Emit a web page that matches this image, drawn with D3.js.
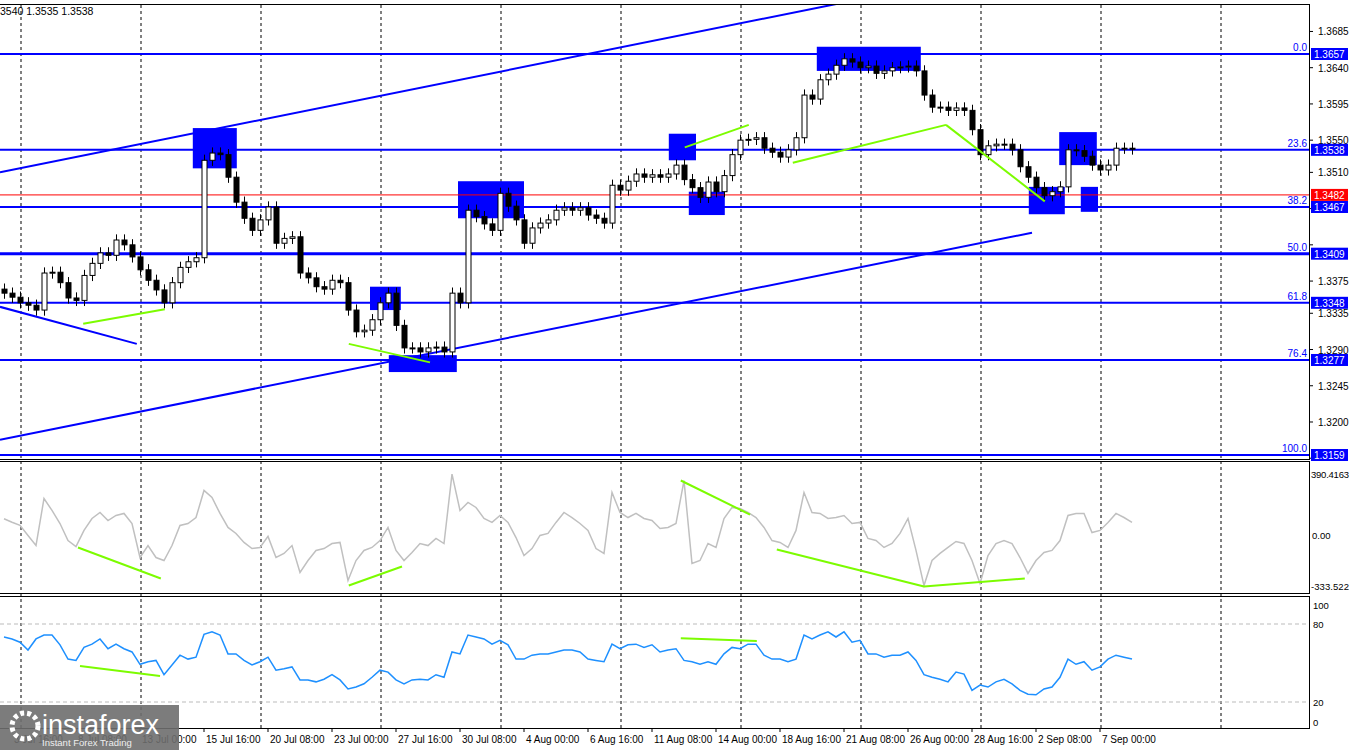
<!DOCTYPE html>
<html>
<head>
<meta charset="utf-8">
<script src="https://cdn.jsdelivr.net/npm/d3@7"></script>
<style>
  body { margin: 0; background: #fff; }
  svg { display: block; font-family: "Liberation Sans", Arial, sans-serif; }
</style>
</head>
<body>
<div id="chart"></div>
<script>
// 4H closes (one value per 8px step)
var closes = [1.3360,1.3355,1.3348,1.3345,1.3339,1.3385,1.3386,1.3373,1.3354,1.3351,
  1.3382,1.3397,1.3410,1.3407,1.3426,1.3420,1.3405,1.3389,1.3376,1.3364,
  1.3348,1.3373,1.3392,1.3399,1.3404,1.3525,1.3534,1.3532,1.3504,1.3473,
  1.3453,1.3438,1.3451,1.3467,1.3422,1.3428,1.3430,1.3385,1.3379,1.3368,
  1.3365,1.3376,1.3373,1.3339,1.3312,1.3314,1.3327,1.3348,1.3360,1.3320,
  1.3292,1.3292,1.3287,1.3292,1.3293,1.3287,1.3360,1.3348,1.3463,1.3455,
  1.3446,1.3438,1.3484,1.3468,1.3451,1.3422,1.3441,1.3447,1.3451,1.3463,
  1.3466,1.3463,1.3466,1.3457,1.3453,1.3447,1.3494,1.3488,1.3499,1.3508,
  1.3504,1.3507,1.3504,1.3508,1.3519,1.3501,1.3491,1.3479,1.3498,1.3486,
  1.3506,1.3532,1.3550,1.3551,1.3553,1.3540,1.3535,1.3529,1.3538,1.3553,
  1.3606,1.3601,1.3625,1.3632,1.3643,1.3651,1.3647,1.3640,1.3642,1.3633,
  1.3636,1.3640,1.3641,1.3642,1.3636,1.3606,1.3591,1.3591,1.3587,1.3590,
  1.3587,1.3563,1.3532,1.3543,1.3545,1.3545,1.3538,1.3517,1.3504,1.3491,
  1.3481,1.3486,1.3492,1.3538,1.3537,1.3530,1.3519,1.3513,1.3519,1.3540,
  1.3540,1.3539];
var firstOpen = 1.3365;

var cci = [106,84,64,0,-64,235,159,76,-32,-70,32,108,146,95,127,140,76,-140,-64,-140,
  -159,-64,64,76,114,286,241,140,51,13,-44,-83,-76,-6,-140,-114,-64,-235,-159,-95,
  -83,-51,-44,-286,-159,-95,-76,-32,51,-95,-159,-108,-51,-64,-19,-51,390,159,210,178,
  108,83,127,83,-13,-127,-83,0,13,83,146,114,76,32,-83,-114,273,146,114,140,
  108,95,44,51,76,349,-178,-159,-51,-76,108,178,171,146,114,51,-32,-44,-76,32,
  273,146,140,108,114,127,76,83,-19,-32,-76,-51,13,108,-95,-318,-159,-114,-76,-38,
  -51,-159,-305,-127,-51,-32,-51,-140,-241,-159,-108,-95,-32,127,140,140,19,32,83,140,
  114,83];

var rsi = [70,68.5,66,60,68.5,71.5,71.5,64,53,52,62,64.5,68.5,61,64.5,61,58.5,49,51,52,
  41,48.5,56,53,54.5,72,74,71.5,57,57,52,48.5,51,54.5,44.5,45.5,47,37,37,35.5,
  37.5,41,37,30,31.5,34,39,44.5,43,37,34,37,37.5,37,41,39,58.5,57,71.5,70,
  68.5,64.5,67.5,64,53,53,56,57,57,58.5,60,60,58.5,53,52,51,64.5,61,64,64.5,
  62,64,58.5,60,61,52,51,49,51,49,57,62,61,64.5,64.5,56,53,53,51,53,
  71.5,68.5,71.5,74,70,74,66,67.5,57,57,54.5,56,56,58.5,52,41,39,37.5,35.5,43,
  41.5,29,33,31.5,35.5,37.5,34,29,26,25.5,30,31.5,39,53,49,51,44.5,47,53,56,
  54.5,53];

var timeLabels = ["3 Jul 16:00","8 Jul 08:00","13 Jul 00:00","15 Jul 16:00","20 Jul 08:00",
  "23 Jul 00:00","27 Jul 16:00","30 Jul 08:00","4 Aug 00:00","6 Aug 16:00","11 Aug 08:00",
  "14 Aug 00:00","18 Aug 16:00","21 Aug 08:00","26 Aug 00:00","28 Aug 16:00","2 Sep 08:00",
  "7 Sep 00:00"];
var priceTicks = [1.3685,1.3640,1.3595,1.3550,1.3510,1.3465,1.3420,1.3375,1.3335,1.3290,1.3245,1.3200,1.3155];
var fibLevels = [1.3657,1.3538,1.3467,1.3409,1.3348,1.3277,1.3159];
var fibNames = ["0.0","23.6","38.2","50.0","61.8","76.4","100.0"];
var bidPrice = 1.3482;

// [index0, index1, priceTop, priceBottom]
var zones = [[23.6,29.1,1.3565,1.3515],[45.75,49.6,1.3368,1.3339],[48.1,56.6,1.3283,1.3262],
  [56.75,65,1.3499,1.3453],[83.1,86.5,1.3558,1.3525],[85.6,90.1,1.3486,1.3457],
  [101.6,114.6,1.3666,1.3636],[128.1,132.6,1.3492,1.3458],[131.9,136.6,1.3560,1.3519],
  [134.6,136.75,1.3492,1.3461]];
var trendLines = [[-0.5,1.3510,104.5,1.3720],[-0.5,1.3178,128.5,1.3435],[-0.5,1.3343,16.6,1.3297]];
var priceDiv = [[9.9,1.3322,20.1,1.3340],[43.1,1.3297,53.25,1.3274],[85.1,1.3541,93.1,1.3569],
  [98.6,1.3522,117.75,1.3569],[117.75,1.3569,130.1,1.3474]];
var cciDiv = [[9.25,-76,19.6,-273],[43.1,-318,49.75,-197],[84.6,349,93.25,133],
  [96.6,-89,115,-324],[115,-324,127.6,-273]];
var rsiDiv = [[9.5,47.7,19.5,40],[84.6,69,94.1,67]];

var W = 1350, H = 750, plotR = 1309;
var svg = d3.select("#chart").append("svg").attr("width", W).attr("height", H);

var x = d3.scaleLinear().domain([0, 1]).range([4, 12]);
var y = d3.scaleLinear().domain([1.3159, 1.3657]).range([455, 54]);
var yc = d3.scaleLinear().domain([-333.522, 390.4163]).range([588, 474]);
var yr = d3.scaleLinear().domain([0, 100]).range([728, 598]);

svg.append("clipPath").attr("id", "cm").append("rect").attr("x", 0).attr("y", 5).attr("width", plotR).attr("height", 454);
svg.append("clipPath").attr("id", "cc").append("rect").attr("x", 0).attr("y", 464).attr("width", plotR).attr("height", 129);
svg.append("clipPath").attr("id", "cr").append("rect").attr("x", 0).attr("y", 598).attr("width", plotR).attr("height", 130);

// vertical dashed grid
var gridIdx = d3.range(11).map(function (k) { return 2.125 + 15 * k; });
svg.append("g").selectAll("line").data(gridIdx).enter().append("line")
  .attr("x1", function (d) { return x(d); }).attr("x2", function (d) { return x(d); })
  .attr("y1", 5).attr("y2", 728)
  .attr("stroke", "#000").attr("stroke-dasharray", "3,3").attr("stroke-width", 1);

// RSI 80/20 levels
svg.append("g").selectAll("line").data([80, 20]).enter().append("line")
  .attr("x1", 0).attr("x2", plotR).attr("y1", function (d) { return yr(d); }).attr("y2", function (d) { return yr(d); })
  .attr("stroke", "#bbb").attr("stroke-dasharray", "4,3");

var main = svg.append("g").attr("clip-path", "url(#cm)");

// zones
main.append("g").selectAll("rect").data(zones).enter().append("rect")
  .attr("x", function (d) { return x(d[0]); }).attr("width", function (d) { return x(d[1]) - x(d[0]); })
  .attr("y", function (d) { return y(d[2]); }).attr("height", function (d) { return y(d[3]) - y(d[2]); })
  .attr("fill", "#0000ff");

// fib levels
main.append("g").selectAll("line").data(fibLevels).enter().append("line")
  .attr("x1", 0).attr("x2", plotR).attr("y1", function (d) { return y(d); }).attr("y2", function (d) { return y(d); })
  .attr("stroke", "#0000ff").attr("stroke-width", function (d, i) { return i === 3 ? 3 : 2; });
main.append("line").attr("x1", 0).attr("x2", plotR).attr("y1", y(bidPrice)).attr("y2", y(bidPrice))
  .attr("stroke", "#ff0000").attr("stroke-width", 1);
main.append("g").selectAll("text").data(fibLevels).enter().append("text")
  .attr("x", plotR - 2).attr("y", function (d) { return y(d) - 3; }).attr("text-anchor", "end")
  .attr("font-size", 10).attr("fill", "#0000ff").text(function (d, i) { return fibNames[i]; });

// trend lines
main.append("g").selectAll("line").data(trendLines).enter().append("line")
  .attr("x1", function (d) { return x(d[0]); }).attr("y1", function (d) { return y(d[1]); })
  .attr("x2", function (d) { return x(d[2]); }).attr("y2", function (d) { return y(d[3]); })
  .attr("stroke", "#0000ff").attr("stroke-width", 2);

// candles
var candles = closes.map(function (c, i) {
  var o = i === 0 ? firstOpen : closes[i - 1];
  return { i: i, o: o, c: c, h: Math.max(o, c) + 0.0007, l: Math.min(o, c) - 0.0007 };
});
var cg = main.append("g").selectAll("g").data(candles).enter().append("g");
cg.append("line").attr("x1", function (d) { return x(d.i) + 0.5; }).attr("x2", function (d) { return x(d.i) + 0.5; })
  .attr("y1", function (d) { return y(d.h); }).attr("y2", function (d) { return y(d.l); })
  .attr("stroke", "#000");
cg.append("rect").attr("x", function (d) { return x(d.i) - 2; }).attr("width", 5)
  .attr("y", function (d) { return y(Math.max(d.o, d.c)); })
  .attr("height", function (d) { return Math.max(1, Math.abs(y(d.o) - y(d.c))); })
  .attr("fill", function (d) { return d.c >= d.o ? "#fff" : "#000"; })
  .attr("stroke", "#000").attr("stroke-width", 1);

// price divergences
main.append("g").selectAll("line").data(priceDiv).enter().append("line")
  .attr("x1", function (d) { return x(d[0]); }).attr("y1", function (d) { return y(d[1]); })
  .attr("x2", function (d) { return x(d[2]); }).attr("y2", function (d) { return y(d[3]); })
  .attr("stroke", "#7cfc00").attr("stroke-width", 2);

// CCI
var cp = svg.append("g").attr("clip-path", "url(#cc)");
cp.append("path").datum(cci)
  .attr("d", d3.line().x(function (d, i) { return x(i); }).y(function (d) { return yc(d); }))
  .attr("fill", "none").attr("stroke", "#c0c0c0").attr("stroke-width", 1.5);
cp.append("g").selectAll("line").data(cciDiv).enter().append("line")
  .attr("x1", function (d) { return x(d[0]); }).attr("y1", function (d) { return yc(d[1]); })
  .attr("x2", function (d) { return x(d[2]); }).attr("y2", function (d) { return yc(d[3]); })
  .attr("stroke", "#7cfc00").attr("stroke-width", 2);

// RSI
var rp = svg.append("g").attr("clip-path", "url(#cr)");
rp.append("path").datum(rsi)
  .attr("d", d3.line().x(function (d, i) { return x(i); }).y(function (d) { return yr(d); }))
  .attr("fill", "none").attr("stroke", "#1e90ff").attr("stroke-width", 1.5);
rp.append("g").selectAll("line").data(rsiDiv).enter().append("line")
  .attr("x1", function (d) { return x(d[0]); }).attr("y1", function (d) { return yr(d[1]); })
  .attr("x2", function (d) { return x(d[2]); }).attr("y2", function (d) { return yr(d[3]); })
  .attr("stroke", "#7cfc00").attr("stroke-width", 2);

// panel frames
var frame = svg.append("g").attr("stroke", "#000").attr("fill", "none");
[[4, 459], [461, 593], [596, 728]].forEach(function (p) {
  frame.append("rect").attr("x", -1).attr("y", p[0] + 0.5).attr("width", plotR + 1.5).attr("height", p[1] - p[0]);
});

// right price axis (labels hidden under the level tags are skipped)
var tagVals = fibLevels.concat([bidPrice]);
var visTicks = priceTicks.filter(function (t) {
  return tagVals.every(function (v) { return Math.abs(y(v) - y(t)) > 9; });
});
var ra = svg.append("g").attr("font-size", 10).attr("fill", "#000");
ra.selectAll("line").data(priceTicks).enter().append("line")
  .attr("x1", plotR).attr("x2", plotR + 4).attr("y1", function (d) { return y(d); }).attr("y2", function (d) { return y(d); })
  .attr("stroke", "#000");
ra.selectAll("text").data(visTicks).enter().append("text")
  .attr("x", plotR + 9).attr("y", function (d) { return y(d) + 4; }).text(function (d) { return d.toFixed(4); });

var tags = fibLevels.map(function (v) { return { v: v, c: "#0000ff" }; }).concat([{ v: bidPrice, c: "#ff0000" }]);
var tg = svg.append("g").selectAll("g").data(tags).enter().append("g");
tg.append("rect").attr("x", plotR + 2).attr("width", 37).attr("y", function (d) { return y(d.v) - 6; }).attr("height", 12)
  .attr("fill", function (d) { return d.c; });
tg.append("text").attr("x", plotR + 5).attr("y", function (d) { return y(d.v) + 4; })
  .attr("font-size", 10).attr("fill", "#fff").text(function (d) { return d.v.toFixed(4); });

// indicator axes
var ia = svg.append("g").attr("font-size", 9.5).attr("fill", "#000");
ia.append("text").attr("x", plotR + 2).attr("y", yc(390.4163) + 4).attr("textLength", 38).text("390.4163");
ia.append("text").attr("x", plotR + 3).attr("y", yc(0) + 4).text("0.00");
ia.append("text").attr("x", plotR + 2).attr("y", yc(-333.522) + 2).attr("textLength", 38).text("-333.522");
[[100, 605], [80, 624], [20, 702], [0, 722]].forEach(function (t) {
  ia.append("text").attr("x", plotR + 4).attr("y", t[1] + 4).text(t[0]);
});

// time axis
var ta = svg.append("g").attr("font-size", 10).attr("fill", "#000");
ta.selectAll("line").data(timeLabels).enter().append("line")
  .attr("x1", function (d, i) { return x(1 + 8 * i); }).attr("x2", function (d, i) { return x(1 + 8 * i); })
  .attr("y1", 728).attr("y2", 732).attr("stroke", "#000");
ta.selectAll("text").data(timeLabels).enter().append("text")
  .attr("x", function (d, i) { return x(1 + 8 * i) + 2; }).attr("y", 743).text(function (d) { return d; });

// header
svg.append("text").attr("x", 0).attr("y", 15).attr("font-size", 10.5).attr("fill", "#000").text("3540 1.3535 1.3538");

// logo
var logo = svg.append("g");
logo.append("rect").attr("x", 0).attr("y", 705).attr("width", 179).attr("height", 45).attr("fill", "#6e6e6e").attr("opacity", 0.9);
logo.append("circle").attr("cx", 25).attr("cy", 726).attr("r", 13).attr("fill", "none").attr("stroke", "#fff").attr("stroke-width", 5).attr("stroke-dasharray", "4,3");
logo.append("text").attr("x", 42).attr("y", 734).attr("font-size", 27).attr("fill", "#fff").text("instaforex");
logo.append("text").attr("x", 42).attr("y", 746).attr("font-size", 9.5).attr("fill", "#eee").text("Instant Forex Trading");
</script>
</body>
</html>
